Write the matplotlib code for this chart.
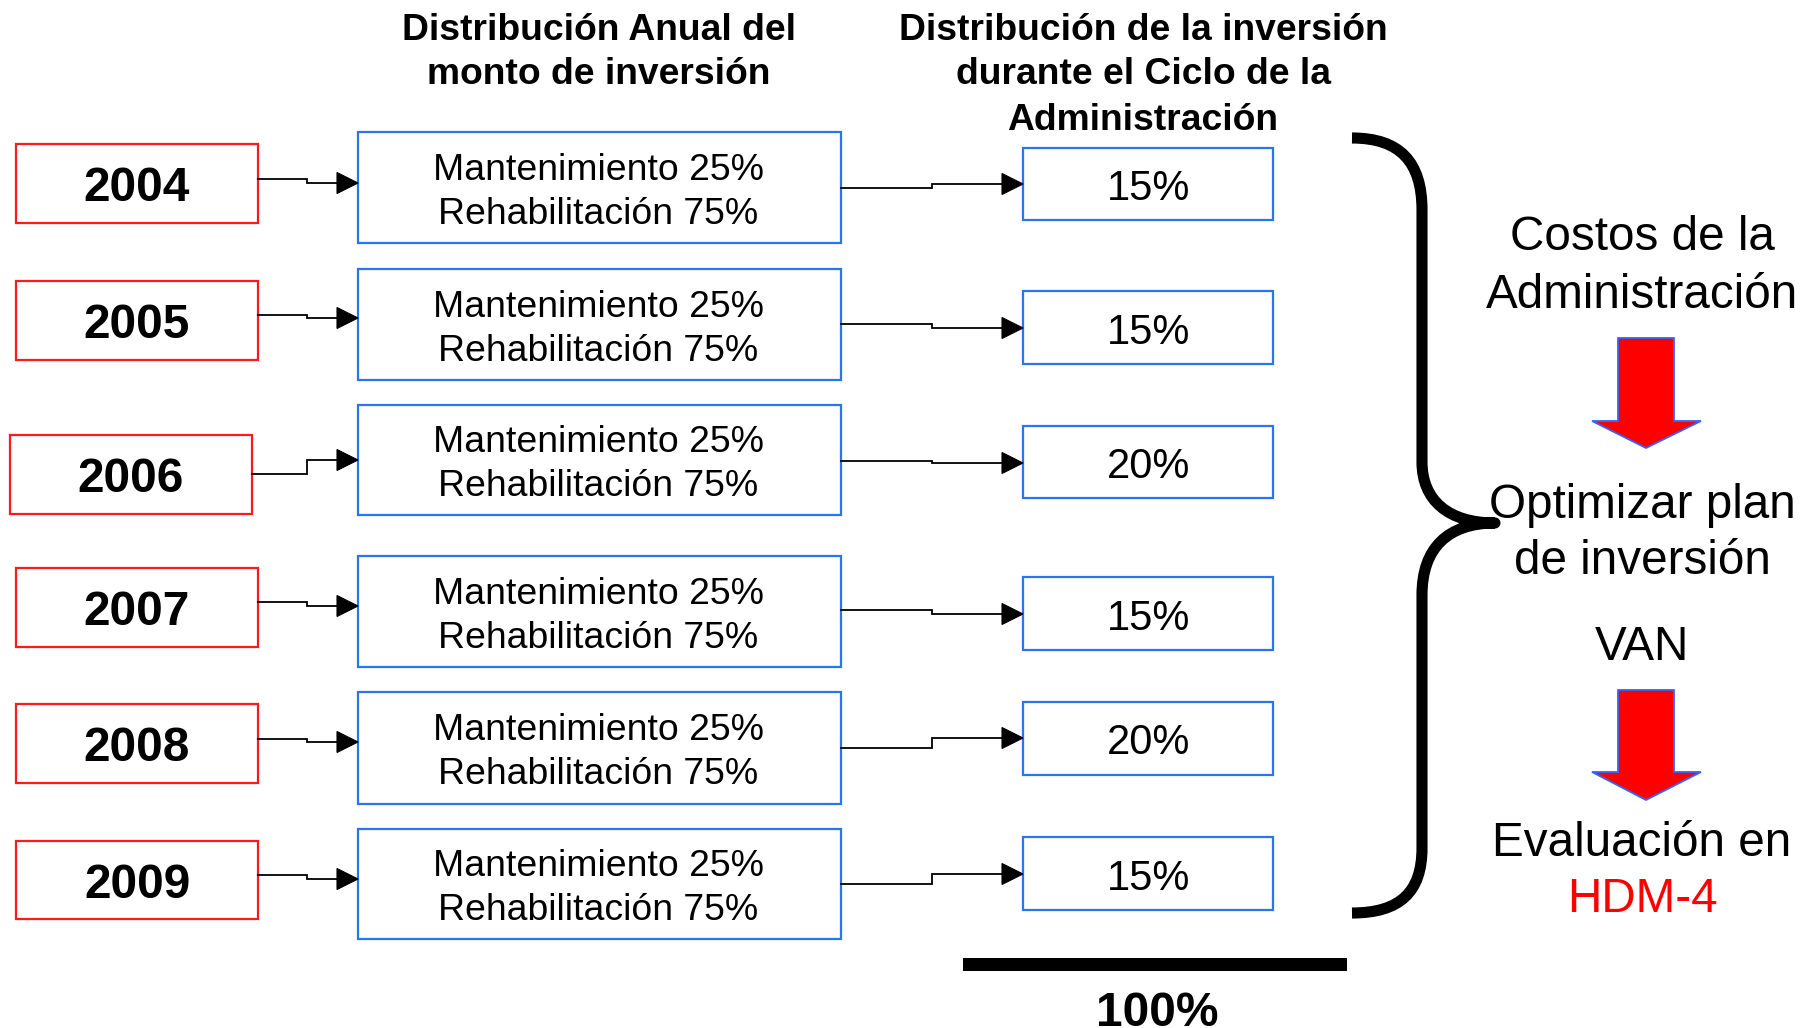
import matplotlib
matplotlib.use("Agg")
import matplotlib.pyplot as plt
from matplotlib.patches import Rectangle, Polygon, PathPatch
from matplotlib.path import Path

plt.rcParams['font.family'] = ['Liberation Sans', 'DejaVu Sans']

# ---- data ----
years = ["2004", "2005", "2006", "2007", "2008", "2009"]
mant_labels = ["Mantenimiento 25%"] * 6
rehab_labels = ["Rehabilitación 75%"] * 6
cycle_pcts = ["15%", "15%", "20%", "15%", "20%", "15%"]
heading_left = ["Distribución Anual del", "monto de inversión"]
heading_right = ["Distribución de la inversión", "durante el Ciclo de la", "Administración"]
right_texts = ["Costos de la", "Administración", "Optimizar plan", "de inversión", "VAN", "Evaluación en"]
right_red = "HDM-4"
total_label = "100%"

# ---- layout (pixel coordinates, y downward) ----
year_x = [(16, 258), (16, 258), (10, 252), (16, 258), (16, 258), (16, 258)]
year_y = [(144, 223), (281, 360), (435, 514), (568, 647), (704, 783), (841, 919)]
mid_x = (358, 841)
mid_y = [(132, 243), (269, 380), (405, 515), (556, 667), (692, 804), (829, 939)]
pct_x = (1023, 1273)
pct_y = [(148, 220), (291, 364), (426, 498), (577, 650), (702, 775), (837, 910)]
c1_start = [179, 315, 474, 602, 739, 875]
c1_end = [183, 318, 460, 606, 742, 879]
c2_start = [188, 324, 461, 610, 748, 884]
c2_end = [184, 328, 463, 614, 738, 874]

RED = '#FF1A1A'
BLUE = '#2B74F0'
DY = 3

fig = plt.figure(figsize=(18.16, 10.28), dpi=100)
ax = fig.add_axes([0, 0, 1, 1])
ax.set_xlim(0, 1816)
ax.set_ylim(1028, 0)
ax.axis('off')


def box(x0, x1, y0, y1, color):
    ax.add_patch(Rectangle((x0, y0), x1 - x0, y1 - y0, fill=False,
                           edgecolor=color, linewidth=1.6))


def connector(xs, ys, xstep, xe, ye):
    head = 21
    ax.plot([xs, xstep, xstep, xe - head], [ys, ys, ye, ye], color='black',
            linewidth=1.3, solid_joinstyle='miter')
    ax.add_patch(Polygon([(xe - head, ye - 10.5), (xe, ye), (xe - head, ye + 10.5)],
                         closed=True, facecolor='black', edgecolor='black', linewidth=0.8))


for i, yr in enumerate(years):
    x0, x1 = year_x[i]
    y0, y1 = year_y[i]
    box(x0, x1, y0, y1, RED)
    ax.text((x0 + x1) / 2, (y0 + y1) / 2 + 2 + DY, yr, ha='center', va='center',
            fontsize=34.5, fontweight='bold')

    my0, my1 = mid_y[i]
    box(mid_x[0], mid_x[1], my0, my1, BLUE)
    mc = (my0 + my1) / 2
    ax.text((mid_x[0] + mid_x[1]) / 2 - 1, mc - 20 + DY, mant_labels[i], ha='center', va='center',
            fontsize=26.9)
    ax.text((mid_x[0] + mid_x[1]) / 2 - 1, mc + 24 + DY, rehab_labels[i], ha='center', va='center',
            fontsize=26.9)

    py0, py1 = pct_y[i]
    box(pct_x[0], pct_x[1], py0, py1, BLUE)
    ax.text((pct_x[0] + pct_x[1]) / 2 + 1, (py0 + py1) / 2 + 2 + DY, cycle_pcts[i],
            ha='center', va='center', fontsize=30)

    connector(x1, c1_start[i], 307, mid_x[0], c1_end[i])
    connector(mid_x[1], c2_start[i], 932, pct_x[0], c2_end[i])

# headings
for j, t in enumerate(heading_left):
    ax.text(599, 27 + DY + 45 * j, t, ha='center', va='center', fontsize=26.8, fontweight='bold')
for j, t in enumerate(heading_right):
    ax.text(1143, 27 + DY + 45 * j, t, ha='center', va='center', fontsize=26.8, fontweight='bold')

# brace
verts = [
    (1352, 138), (1400, 138), (1422, 162), (1422, 210),
    (1422, 462),
    (1422, 500), (1448, 523), (1495, 523),
    (1448, 523), (1422, 548), (1422, 595),
    (1422, 848),
    (1422, 892), (1400, 913), (1352, 913),
]
codes = [Path.MOVETO, Path.CURVE4, Path.CURVE4, Path.CURVE4,
         Path.LINETO,
         Path.CURVE4, Path.CURVE4, Path.CURVE4,
         Path.CURVE4, Path.CURVE4, Path.CURVE4,
         Path.LINETO,
         Path.CURVE4, Path.CURVE4, Path.CURVE4]
ax.add_patch(PathPatch(Path(verts, codes), fill=False, edgecolor='black',
                       linewidth=8, capstyle='butt', joinstyle='round'))

# right side text
right_y = [234, 292, 502, 558, 644, 840]
for t, y in zip(right_texts, right_y):
    ax.text(1642, y + DY, t, ha='center', va='center', fontsize=34.3)
ax.text(1642, 897 + DY, right_red, ha='center', va='center', fontsize=34.3, color='#FF0000')


def red_arrow(ytop, ybase, ytip):
    pts = [(1618, ytop), (1674, ytop), (1674, ybase), (1701, ybase),
           (1646, ytip), (1592, ybase), (1618, ybase)]
    ax.add_patch(Polygon(pts, closed=True, facecolor='#FF0000', edgecolor='#3366FF',
                         linewidth=1.3))


red_arrow(338, 421, 448)
red_arrow(690, 772, 800)

# total bar
ax.add_patch(Rectangle((963, 958), 1347 - 963, 13, facecolor='black', edgecolor='none'))
ax.text(1157, 1026, total_label, ha='center', va='baseline', fontsize=34.5, fontweight='bold')

fig.savefig('out.png', dpi=100)
